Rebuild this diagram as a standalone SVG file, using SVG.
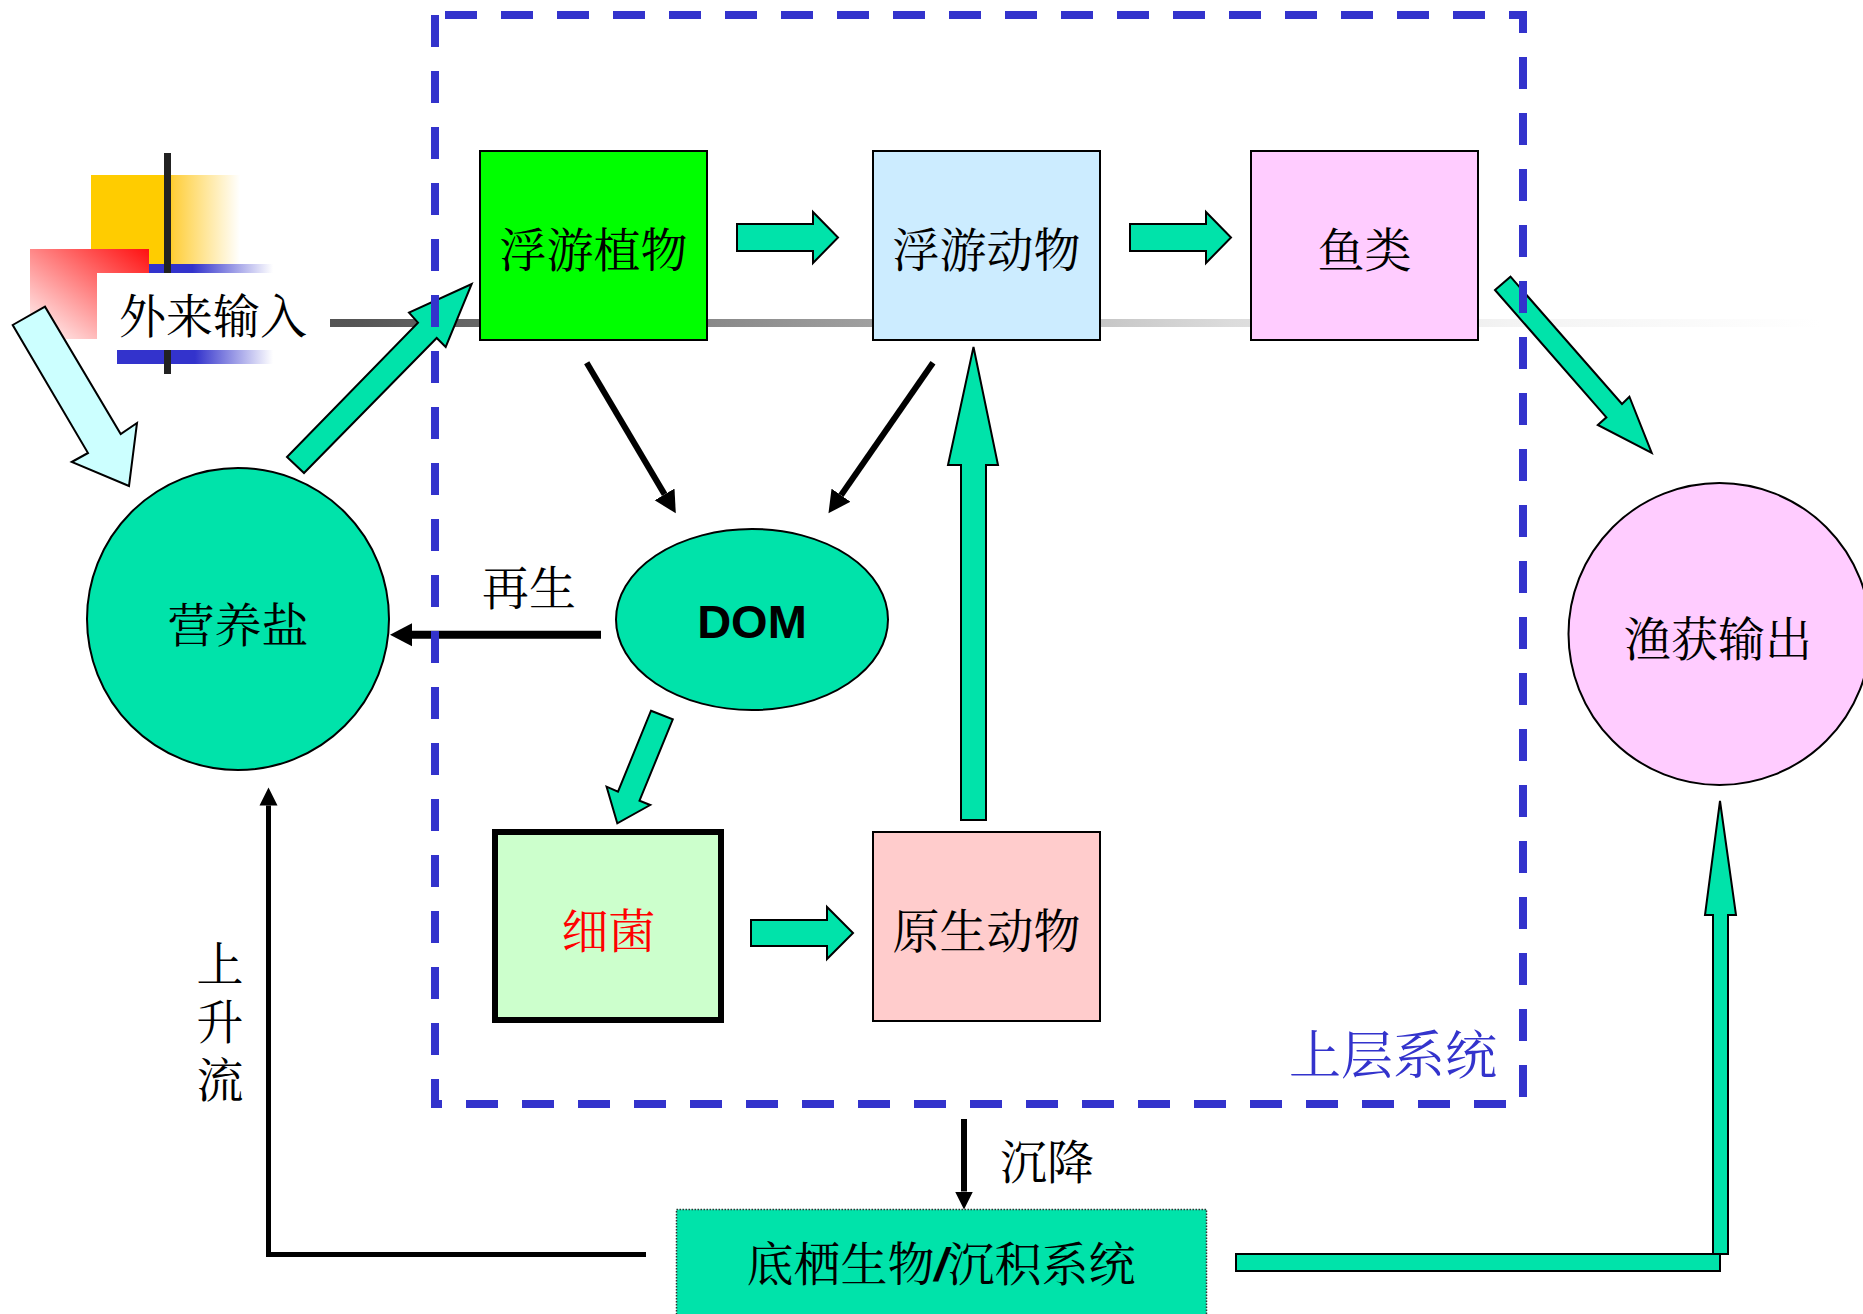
<svg xmlns="http://www.w3.org/2000/svg" width="1863" height="1314" viewBox="0 0 1863 1314">
<defs>
<style>
.cjk{font-family:"Noto Serif CJK SC","Noto Sans CJK SC","Liberation Serif",serif;font-size:47px;fill:#000}
.mid{text-anchor:middle}
.box{stroke:#000;stroke-width:2}
.teal{fill:#00E3AA;stroke:#000;stroke-width:2;stroke-linejoin:miter}
.blk{fill:none;stroke:#000}
.vert{writing-mode:vertical-rl;text-orientation:upright;letter-spacing:11px}
</style>
<linearGradient id="grayLine" gradientUnits="userSpaceOnUse" x1="95" y1="0" x2="1820" y2="0">
<stop offset="0" stop-color="#4A4A4A"/>
<stop offset="0.15" stop-color="#555555"/>
<stop offset="0.45" stop-color="#A0A0A0"/>
<stop offset="0.66" stop-color="#DCDCDC"/>
<stop offset="0.82" stop-color="#F3F3F3"/>
<stop offset="1" stop-color="#FFFFFF"/>
</linearGradient>
<linearGradient id="yellowFade" x1="0" y1="0" x2="1" y2="0">
<stop offset="0" stop-color="#FFCC00"/>
<stop offset="0.5" stop-color="#FFCC00"/>
<stop offset="0.56" stop-color="#FFD040"/>
<stop offset="1" stop-color="#FFFFFF"/>
</linearGradient>
<linearGradient id="redFade" x1="1" y1="0" x2="0" y2="1">
<stop offset="0" stop-color="#FF1010"/>
<stop offset="1" stop-color="#FFFFFF"/>
</linearGradient>
<linearGradient id="blueFade" x1="0" y1="0" x2="1" y2="0">
<stop offset="0" stop-color="#3333CC"/>
<stop offset="0.35" stop-color="#3333CC"/>
<stop offset="1" stop-color="#FFFFFF"/>
</linearGradient>
<linearGradient id="blueFade2" x1="0" y1="0" x2="1" y2="0">
<stop offset="0" stop-color="#3333CC"/>
<stop offset="0.5" stop-color="#3333CC"/>
<stop offset="1" stop-color="#FFFFFF"/>
</linearGradient>
<marker id="ah" markerUnits="userSpaceOnUse" viewBox="0 -12 24 24" markerWidth="24" markerHeight="24" refX="0" refY="0" orient="auto">
<path d="M0,-11.5 L22,0 L0,11.5 Z" fill="#000"/>
</marker>
<marker id="ahs" markerUnits="userSpaceOnUse" viewBox="0 -10 20 20" markerWidth="20" markerHeight="20" refX="0" refY="0" orient="auto">
<path d="M0,-9 L18,0 L0,9 Z" fill="#000"/>
</marker>
</defs>
<rect x="0" y="0" width="1863" height="1314" fill="#FFFFFF"/>

<g id="decoration">
<rect x="95" y="319" width="1725" height="8" fill="url(#grayLine)"/>
<rect x="91" y="175" width="149" height="90" fill="url(#yellowFade)"/>
<rect x="149" y="264" width="124" height="9" fill="url(#blueFade)"/>
<rect x="30" y="249" width="119" height="90" fill="url(#redFade)"/>
<rect x="117" y="350" width="156" height="14" fill="url(#blueFade2)"/>
<rect x="164" y="153" width="7" height="221" fill="#222222"/>
</g>

<g id="external-input">
<rect x="97" y="273" width="233" height="77" fill="#FFFFFF"/>
<text class="cjk" x="119" y="333">外来输入</text>
</g>

<g id="phytoplankton">
<rect class="box" x="480" y="151" width="227" height="189" fill="#00FF00"/>
<text class="cjk mid" x="593.5" y="267">浮游植物</text>
</g>
<g id="zooplankton">
<rect class="box" x="873" y="151" width="227" height="189" fill="#CCECFF"/>
<text class="cjk mid" x="986.5" y="267">浮游动物</text>
</g>
<g id="fish">
<rect class="box" x="1251" y="151" width="227" height="189" fill="#FFCCFF"/>
<text class="cjk mid" x="1364.5" y="267">鱼类</text>
</g>
<g id="nutrients">
<circle class="box" cx="238" cy="619" r="151" fill="#00E3AA"/>
<text class="cjk mid" x="238" y="642">营养盐</text>
</g>
<g id="dom">
<ellipse class="box" cx="752" cy="619.5" rx="136" ry="90.5" fill="#00E3AA"/>
<text x="752" y="638" text-anchor="middle" font-family="Liberation Sans, Arial, sans-serif" font-weight="bold" font-size="47">DOM</text>
</g>
<g id="bacteria">
<rect x="495" y="832" width="226" height="188" fill="#CCFFCC" stroke="#000" stroke-width="6"/>
<text class="cjk mid" x="608.5" y="948" style="fill:#FF0000">细菌</text>
</g>
<g id="protozoa">
<rect class="box" x="873" y="832" width="227" height="189" fill="#FFCCCC"/>
<text class="cjk mid" x="986.5" y="948">原生动物</text>
</g>
<g id="fishery-output">
<circle class="box" cx="1719.5" cy="634" r="151" fill="#FFCCFF"/>
<text class="cjk mid" x="1718" y="656">渔获输出</text>
</g>
<g id="benthic-system">
<rect x="676.5" y="1209.5" width="530" height="130" fill="#00E3AA" stroke="#333333" stroke-width="1.5" stroke-dasharray="1.5 1.5"/>
<text class="cjk mid" x="941" y="1281">底栖生物<tspan font-family="Liberation Sans, Arial, sans-serif" font-weight="bold" font-style="italic">/</tspan>沉积系统</text>
</g>

<g id="connectors">
<polygon points="12.7,325 45,306.7 120.7,434 137,423 129,486 71.7,462 88,453" fill="#CCFFFF" stroke="#000" stroke-width="2"/>
<polygon class="teal" points="287,457 418,322.7 409,312.7 471.7,284 445.7,347 436.7,338 304,473"/>
<polygon class="teal" points="737,224 813,224 813,212 838,237.5 813,263 813,251 737,251"/>
<polygon class="teal" points="1130,224 1206,224 1206,212 1231,237.5 1206,263 1206,251 1130,251"/>
<polygon class="teal" points="1495,290 1510.5,276.7 1622,404 1629.4,396.7 1651.7,453 1597.8,425 1606.4,417.3"/>
<line class="blk" x1="586.7" y1="362.7" x2="664.6" y2="494.4" stroke-width="6" marker-end="url(#ah)"/>
<line class="blk" x1="933" y1="362.7" x2="841" y2="495.2" stroke-width="6" marker-end="url(#ah)"/>
<line class="blk" x1="601" y1="634.7" x2="412" y2="634.7" stroke-width="8" marker-end="url(#ah)"/>
<text class="cjk" x="482" y="605">再生</text>
<polygon class="teal" points="651,710.7 672.8,719.3 639.5,800.7 650.2,805 617.3,823.3 606.6,786.7 618,791.7"/>
<polygon class="teal" points="751,920 827,920 827,907 853,933 827,959 827,946 751,946"/>
<polygon class="teal" points="961,820 961,465 948,465 973.5,347 998,465 986,465 986,820"/>
<rect class="teal" x="1236" y="1254" width="484" height="17"/>
<polygon class="teal" points="1713,1254 1713,915 1705,915 1720,801 1736,915 1728,915 1728,1254"/>
<polyline class="blk" points="646,1254.5 268.5,1254.5 268.5,805.5" stroke-width="5" marker-end="url(#ahs)"/>
<text class="cjk vert" x="220" y="940">上升流</text>
<line class="blk" x1="964" y1="1119" x2="964" y2="1191.5" stroke-width="6" marker-end="url(#ahs)"/>
<text class="cjk" x="1000" y="1179">沉降</text>
</g>

<g id="upper-system">
<path d="M435,15 H1523 V1104 H435 V15" fill="none" stroke="#3333CC" stroke-width="8" stroke-dasharray="32 24" stroke-dashoffset="46"/>
<text class="cjk" x="1289" y="1074" style="font-size:52px;fill:#3333CC">上层系统</text>
</g>
</svg>
